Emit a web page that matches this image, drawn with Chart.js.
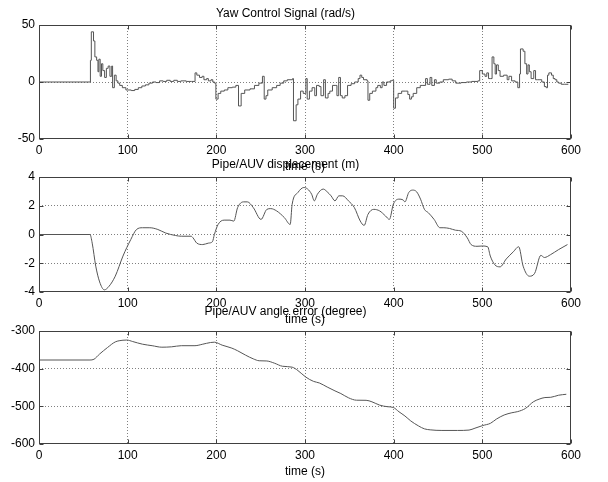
<!DOCTYPE html>
<html>
<head>
<meta charset="utf-8">
<script src="https://cdn.jsdelivr.net/npm/chart.js@4.4.1/dist/chart.umd.min.js"></script>
<style>
  html, body { margin: 0; padding: 0; background: #fff; overflow: hidden; }
  #wrap { position: relative; width: 608px; height: 482px; }
  canvas { position: absolute; left: 0; }
</style>
</head>
<body>
<div id="wrap">
  <canvas id="yawChart" width="608" height="180" style="top:0px"></canvas>
  <canvas id="dispChart" width="608" height="183" style="top:150px"></canvas>
  <canvas id="angleChart" width="608" height="182" style="top:300px"></canvas>
</div>
<script>
// time axis shared by all three plots
let timeRange = [0, 600];

// yaw control signal (rad/s), held between samples
let yawTimes = [0, 58, 59, 61.5, 63, 65, 66.5, 67.5, 69, 70.5, 72, 74, 76, 78, 80, 82, 83, 85, 87, 89,
    91, 94, 98, 104, 108, 112, 116, 120, 124, 128, 132, 136, 140, 144, 148, 152, 156, 160, 166, 172,
    176, 178, 181, 184, 186, 189, 191, 194, 196, 198, 199.5, 202, 205, 209, 213, 218, 222, 225, 228, 232,
    238, 243, 248, 252, 254, 256, 258, 263, 268, 272, 276, 280, 286, 287, 290, 292, 295, 298, 301, 302.5,
    305, 308, 311, 313, 316, 318, 321, 323, 326, 328, 331, 334, 336, 338, 340, 342, 345, 348, 352, 356,
    360, 362, 364, 366, 370, 371, 373, 376, 380, 382, 385, 387, 389, 392, 396, 398, 400, 402, 405, 409,
    413, 416, 418, 420, 422, 426, 430, 433, 436, 438, 441, 443, 446, 448, 452, 456, 462, 466, 470, 476,
    482, 488, 495, 497, 500, 503, 505, 507, 509, 511, 513, 514.5, 516, 518, 520, 524, 528, 530, 533, 537,
    540, 542, 543, 546, 548, 550, 551.5, 553, 555, 558, 560, 562, 564, 567, 570, 572, 573.5, 575, 578, 580,
    582, 584, 586, 589, 593, 597];
let yawValues = [0, 19, 44, 36, 22, 19, 9, 20, 5, 16, 10, 4, 12, 14, 5, 14, -5, 6, 1, -1,
    -3, -5, -7, -7.5, -6.5, -5, -3.5, -2.5, -1, 0, -0.5, 1, 0.5, 1.5, 0.5, 1.5, 0.5, 1, 0.5, 0.5,
    8, 6, 4, 5, 2, 3, 1, 2, 0, -1, -15, -10, -8, -7, -5, -4.5, -3, -21, -10, -7,
    -6, -3, -1, 5, -15, -12, -7, -5, -3, -1, 1, 2, 3, -34, -20, -15, -8, -10, 3, -15,
    -8, -5, -12, -3, -4, -12, 2, -14, -10, -8, -3, -3, -12, 4, -12, -14, -12, -3, -1.5, 0,
    3, 6, 4, 2, 1, -16, -10, -8, -5, -3, -5, 0, -3, 0, 1, 1.5, -23, -14, -10, -8,
    -8, -11, -15, -13, -10, -5, -3, -3, 3, -2, 4, -3, 2, -1, 0, 2, 2.5, 1, -1, -0.5,
    0, 0.5, 1, 10, 7, 5, 8, 3, 3, 22, 16, 7, 15, 10, 5, 6, 2, 5, 1, 0,
    -5, 7, 29, 27, 16, 7, 15, 9, 3, 10, 2, 2, 2, 0, -4, -5, 6, 8, 6, 3,
    2, 0, -1, -2, -2, -2];

// pipe/AUV displacement (m)
let dispTimes = [0, 57.5, 60, 64, 68.4, 73.7, 79, 86, 94.7, 103.5, 110, 116.7, 125, 134, 143, 154, 160.5,
    171.5, 173.7, 178, 184.7, 191, 195.6, 197.8, 202, 208.8, 215.4, 219.7, 224, 230.7, 235, 241.7, 250.4,
    257, 261.4, 268, 276.8, 283.3, 285.5, 292, 298.7, 303, 307.5, 310.5, 314, 320.6, 325, 329.4, 333.8,
    338.2, 342.5, 349, 355.7, 362.3, 366.7, 371, 377.6, 384.2, 390.8, 395.2, 399.6, 406, 410.5, 412.7,
    417, 421.5, 425.9, 430.3, 434.7, 439, 445.6, 452.2, 456.6, 463, 469.7, 476.3, 483, 487.3, 494, 500,
    506, 509, 514, 520, 527, 535, 541, 546, 553, 559, 566, 570, 577, 586, 596];
let dispValues = [0, 0, -0.6, -2.2, -3.3, -3.85, -3.6, -2.9, -1.5, -0.35, 0.35, 0.47, 0.47, 0.35, 0.1, -0.07, -0.12,
    -0.12, -0.23, -0.6, -0.7, -0.6, -0.5, 0, 0.7, 1.0, 1.0, 0.93, 1.87, 2.27, 2.27, 1.87, 1.05,
    1.75, 1.8, 1.64, 1.17, 0.7, 2.1, 2.92, 3.27, 3.16, 2.8, 2.34, 2.8, 3.16, 2.97, 2.69, 2.34,
    2.69, 2.69, 2.34, 1.87, 0.94, 0.63, 1.4, 1.75, 1.64, 1.29, 1.05, 2.1, 2.46, 2.41, 2.27,
    2.92, 3.09, 2.97, 2.46, 1.75, 1.52, 1.05, 0.47, 0.47, 0.42, 0.3, 0.23, -0.23, -0.7, -0.82, -0.8,
    -0.85, -1.5, -2.1, -2.25, -1.7, -1.2, -0.85, -2.2, -2.9, -2.7, -1.45, -1.6, -1.4, -1.05, -0.7];

// pipe/AUV angle error (degree)
let angleTimes = [0, 57.5, 62, 68.4, 77.2, 86, 94.7, 99, 105.7, 116.7, 127.6, 138.6, 149.6, 160.5, 175.9,
    184.7, 193.4, 197.8, 206.6, 217.5, 224, 232.9, 241.7, 248.3, 257, 265.8, 274.6, 285.5, 292, 300.9,
    309.7, 316.2, 325, 333.8, 340.4, 349.2, 358, 368.9, 375.5, 384.2, 393, 399.6, 406, 412.7, 419.3, 428,
    434.7, 441.2, 454.4, 472, 485, 491.7, 500.5, 509.2, 515.8, 524.6, 533.3, 539.9, 548.7, 557.5, 564,
    570.6, 577.2, 586, 594.7];
let angleValues = [-377, -377, -375, -361, -344, -329, -324.5, -324, -328, -335, -339, -343, -342, -339, -339,
    -335, -330.6, -329.7, -337.6, -345.5, -352.5, -364, -374, -379, -379.6, -385.7, -393.6, -396, -405, -422.4,
    -433.8, -438, -448.7, -459, -466, -477.5, -483.7, -484, -488, -496.8, -501, -503, -514.5, -525.6, -538.8, -552,
    -559.8, -562.4, -564, -564, -563, -558, -551, -545, -534, -523, -517, -514, -505.5, -488, -481,
    -476.7, -476, -470.5, -468];

let lineColor = '#555555';
let fontFamily = '"Liberation Sans", Arial, sans-serif';

// axes box with small inward ticks, like the original plot
let boxPlugin = {
    id: 'box',
    afterDatasetsDraw: function (chart) {
        let ctx = chart.ctx;
        let a = chart.chartArea;
        let xs = chart.scales.x;
        let ys = chart.scales.y;
        ctx.save();
        ctx.strokeStyle = '#404040';
        ctx.lineWidth = 1;
        let l = Math.round(a.left) + 0.5, r = Math.round(a.right) - 0.5;
        let t = Math.round(a.top) + 0.5, b = Math.round(a.bottom) - 0.5;
        ctx.strokeRect(l, t, r - l, b - t);
        ctx.beginPath();
        xs.ticks.forEach(function (tk) {
            let px = Math.round(xs.getPixelForValue(tk.value)) + 0.5;
            ctx.moveTo(px, t); ctx.lineTo(px, t + 4);
            ctx.moveTo(px, b); ctx.lineTo(px, b - 4);
        });
        ys.ticks.forEach(function (tk) {
            let py = Math.round(ys.getPixelForValue(tk.value)) + 0.5;
            ctx.moveTo(l, py); ctx.lineTo(l + 4, py);
            ctx.moveTo(r, py); ctx.lineTo(r - 4, py);
        });
        ctx.stroke();
        ctx.restore();
    }
};

function makeChart(id, title, times, values, yMin, yMax, yStep, opts) {
    let points = times.map(function (t, i) { return {x: t, y: values[i]}; });
    let dataset = {
        data: points,
        borderColor: lineColor,
        borderWidth: 1,
        pointRadius: 0,
        fill: false
    };
    if (opts.stepped) {
        dataset.stepped = true;
    } else {
        dataset.cubicInterpolationMode = 'monotone';
    }
    let ctx = document.getElementById(id).getContext('2d');
    return new Chart(ctx, {
        type: 'line',
        data: {datasets: [dataset]},
        plugins: [boxPlugin],
        options: {
            responsive: false,
            animation: false,
            layout: {padding: {left: 0, right: 37, top: 0, bottom: 0}},
            plugins: {
                legend: {display: false},
                tooltip: {enabled: false},
                title: {
                    display: true,
                    text: title,
                    color: '#000',
                    font: {family: fontFamily, size: 12, weight: 'normal'},
                    padding: {top: opts.titleTop, bottom: opts.titleBottom}
                }
            },
            scales: {
                x: {
                    type: 'linear',
                    min: timeRange[0],
                    max: timeRange[1],
                    afterFit: function (s) { s.height = opts.xHeight; },
                    ticks: {stepSize: 100, color: '#000', padding: 4, maxRotation: 0,
                        font: {family: fontFamily, size: 12}},
                    grid: {
                        drawTicks: false,
                        color: function (c) {
                            let v = c.tick ? c.tick.value : null;
                            return (v === timeRange[0] || v === timeRange[1]) ? 'rgba(0,0,0,0)' : '#808080';
                        }
                    },
                    border: {display: false, dash: [1, 2]},
                    title: {display: true, text: 'time (s)', color: '#000',
                        font: {family: fontFamily, size: 12}, padding: {top: 0, bottom: opts.xTitleBottom}}
                },
                y: {
                    min: yMin,
                    max: yMax,
                    afterFit: function (s) { s.width = 39; },
                    ticks: {stepSize: yStep, color: '#000', padding: 4,
                        font: {family: fontFamily, size: 12}},
                    grid: {
                        drawTicks: false,
                        color: function (c) {
                            let v = c.tick ? c.tick.value : null;
                            return (v === yMin || v === yMax) ? 'rgba(0,0,0,0)' : '#808080';
                        }
                    },
                    border: {display: false, dash: [1, 2]}
                }
            }
        }
    });
}

makeChart('yawChart', 'Yaw Control Signal (rad/s)', yawTimes, yawValues, -50, 50, 50,
    {stepped: true, titleTop: 6, titleBottom: 4.6, xHeight: 41, xTitleBottom: 5.8});
makeChart('dispChart', 'Pipe/AUV displacement (m)', dispTimes, dispValues, -4, 4, 2,
    {stepped: false, titleTop: 7.8, titleBottom: 4.8, xHeight: 41, xTitleBottom: 5.8});
makeChart('angleChart', 'Pipe/AUV angle error (degree)', angleTimes, angleValues, -600, -300, 100,
    {stepped: false, titleTop: 4.8, titleBottom: 11.8, xHeight: 38, xTitleBottom: 2.8});
</script>
</body>
</html>
